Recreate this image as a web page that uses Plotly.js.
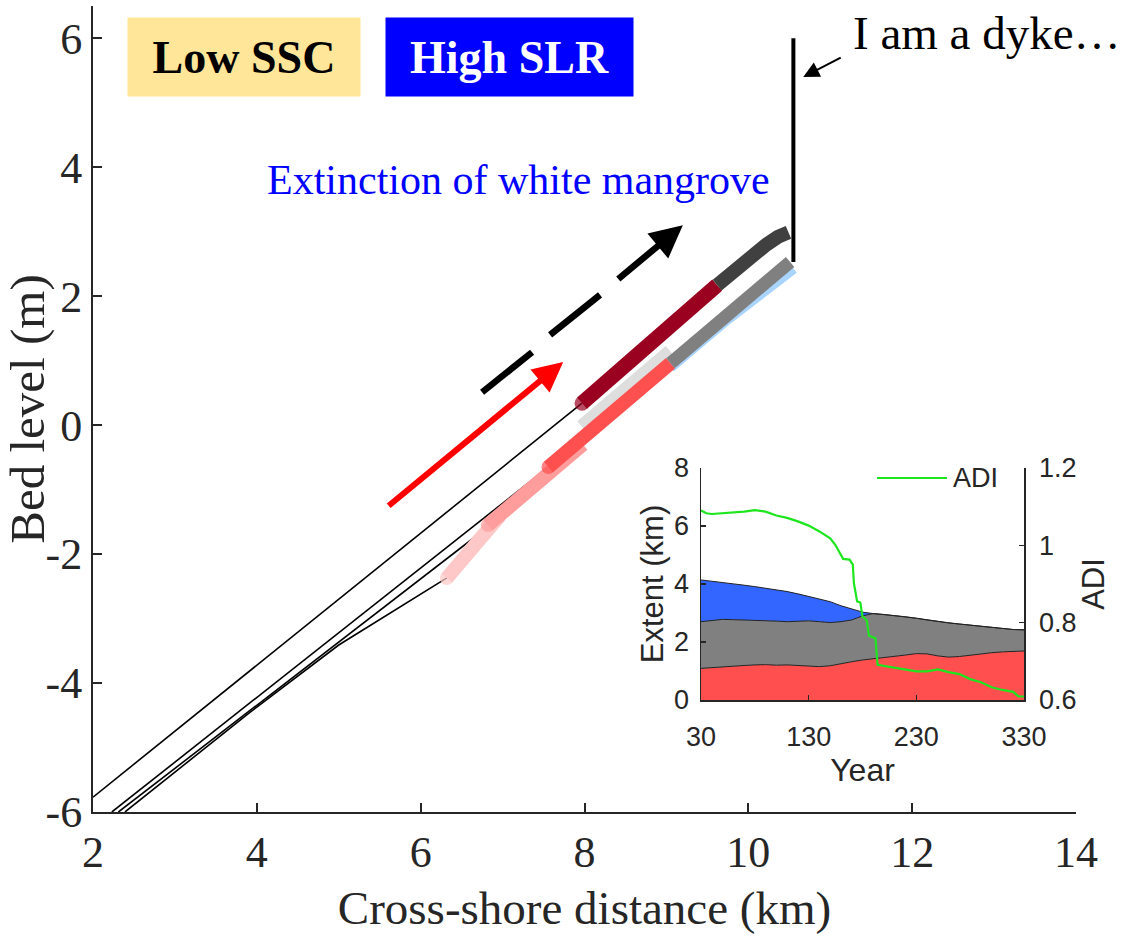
<!DOCTYPE html>
<html>
<head>
<meta charset="utf-8">
<script src="https://cdn.plot.ly/plotly-3.0.1.min.js"></script>
<style>html,body{margin:0;padding:0;background:#fff;}#chart{width:1130px;height:937px;}</style>
</head>
<body>
<div id="chart"></div>
<script>
// ---------- Main profile data (cross-shore distance km, bed level m) ----------
const profileA_x = [2.0, 7.97];
const profileA_y = [-5.77, 0.34];
const profileB_x = [2.23, 7.56];
const profileB_y = [-6.0, -0.65];
const profileC_x = [2.31, 6.82];
const profileC_y = [-6.0, -1.58];
const profileD_x = [2.39, 3.9, 5.0, 6.32];
const profileD_y = [-6.0, -4.47, -3.41, -2.37];

const lightPink_x = [6.32, 6.97];
const lightPink_y = [-2.37, -1.40];
const pink_x = [6.82, 7.98];
const pink_y = [-1.55, -0.30];
const lightGray_x = [7.97, 9.05];
const lightGray_y = [-0.03, 1.14];
const lightBlue_x = [9.05, 9.70, 10.55];
const lightBlue_y = [0.90, 1.60, 2.43];
const red_x = [7.56, 9.05];
const red_y = [-0.65, 0.96];
const gray_x = [9.05, 9.70, 10.51];
const gray_y = [0.96, 1.68, 2.53];
const darkRed_x = [7.97, 9.62];
const darkRed_y = [0.34, 2.17];
const darkGray_x = [9.62, 9.85, 10.05, 10.22, 10.36, 10.49];
const darkGray_y = [2.17, 2.43, 2.64, 2.80, 2.92, 2.99];
const dyke_x = [10.55, 10.55];
const dyke_y = [2.53, 6.0];

const mainXTicks = [2, 4, 6, 8, 10, 12, 14];
const mainYTicks = [-6, -4, -2, 0, 2, 4, 6];
const mainYTickText = ['-6', '-4', '-2', '0', '2', '4', '6'];

// ---------- Inset data ----------
const years = [30,40,50,60,70,80,90,100,110,120,130,140,150,160,170,180,190,200,210,220,230,240,250,260,270,280,290,300,310,320,330];
const redTop = [1.09,1.12,1.15,1.17,1.19,1.21,1.22,1.20,1.21,1.19,1.17,1.15,1.18,1.26,1.32,1.38,1.42,1.45,1.50,1.55,1.60,1.59,1.52,1.48,1.50,1.55,1.58,1.63,1.66,1.68,1.69];
const grayTop = [2.70,2.74,2.78,2.77,2.76,2.76,2.74,2.72,2.70,2.72,2.73,2.70,2.67,2.70,2.76,2.90,2.98,2.95,2.91,2.87,2.82,2.76,2.70,2.66,2.62,2.58,2.53,2.49,2.45,2.43,2.42];
const totalTop = [4.14,4.10,4.05,4.00,3.96,3.91,3.86,3.80,3.74,3.66,3.57,3.48,3.39,3.25,3.14,3.03,2.98,2.95,2.91,2.87,2.82,2.76,2.70,2.66,2.62,2.58,2.53,2.49,2.45,2.43,2.42];

const adiYears = [30,35,40,50,60,70,80,85,90,100,110,120,130,140,145,150,155,158,162,168,171,172,175,178,180,182,184,186,190,192,194,200,210,220,230,240,250,260,270,280,290,300,310,320,325,330];
const adiVals = [1.090,1.083,1.081,1.083,1.085,1.087,1.091,1.089,1.087,1.077,1.071,1.062,1.051,1.036,1.027,1.018,1.000,0.985,0.965,0.963,0.950,0.902,0.855,0.852,0.815,0.812,0.805,0.766,0.762,0.760,0.691,0.688,0.684,0.679,0.674,0.674,0.679,0.672,0.667,0.654,0.646,0.633,0.626,0.621,0.609,0.609];

const insetXTicks = [30, 130, 230, 330];
const insetYTicks = [0, 2, 4, 6, 8];
const adiTicks = [0.6, 0.8, 1.0, 1.2];
const adiTickText = ['0.6', '0.8', '1', '1.2'];

// ---------- Traces ----------
function thin(x, y) {
  return {x: x, y: y, xaxis: 'x', yaxis: 'y', mode: 'lines', line: {color: '#000', width: 1.6}, hoverinfo: 'skip'};
}
function thick(x, y, color, w, capStart) {
  return {x: x, y: y, xaxis: 'x', yaxis: 'y', mode: capStart ? 'lines+markers' : 'lines',
    line: {color: color, width: w},
    marker: {color: color, size: capStart ? x.map((v, i) => i === 0 ? w : 0) : 0, line: {width: 0}},
    hoverinfo: 'skip'};
}

const data = [
  thin(profileA_x, profileA_y),
  thin(profileB_x, profileB_y),
  thin(profileC_x, profileC_y),
  thin(profileD_x, profileD_y),
  thick(lightBlue_x, lightBlue_y, '#a8d4ff', 11, false),
  thick(lightGray_x, lightGray_y, '#dedede', 15, false),
  thick(lightPink_x, lightPink_y, '#ffc8c8', 14, true),
  thick(pink_x, pink_y, '#ff9c9c', 14, true),
  thick(red_x, red_y, '#ff5050', 14, true),
  thick(gray_x, gray_y, '#808080', 13, false),
  thick(darkRed_x, darkRed_y, '#9a0020', 15, true),
  thick(darkGray_x, darkGray_y, '#404040', 14, false),
  {x: dyke_x, y: dyke_y, xaxis: 'x', yaxis: 'y', mode: 'lines', line: {color: '#000', width: 4}, hoverinfo: 'skip'},
  // inset
  {x: years, y: redTop, xaxis: 'x2', yaxis: 'y2', mode: 'lines', fill: 'tozeroy', fillcolor: '#ff4f4f', line: {color: '#222', width: 1}, hoverinfo: 'skip'},
  {x: years, y: grayTop, xaxis: 'x2', yaxis: 'y2', mode: 'lines', fill: 'tonexty', fillcolor: '#808080', line: {color: '#222', width: 1}, hoverinfo: 'skip'},
  {x: years, y: totalTop, xaxis: 'x2', yaxis: 'y2', mode: 'lines', fill: 'tonexty', fillcolor: '#3366ff', line: {color: '#222', width: 1}, hoverinfo: 'skip'},
  {x: adiYears, y: adiVals, xaxis: 'x2', yaxis: 'y3', mode: 'lines', name: 'ADI', line: {color: '#1ee61e', width: 2.2, shape: 'linear'}, hoverinfo: 'skip'}
];

// paper helpers (pixel -> paper), main plot area: x 93..1076, y 6..812
const L = 93, R = 1076, T = 6, B = 812;
const px = v => (v - L) / (R - L);
const py = v => (B - v) / (B - T);

const axisCommon = {
  showgrid: false, zeroline: false, showline: true, linecolor: '#262626', linewidth: 2,
  ticks: 'inside', tickcolor: '#262626', tickwidth: 2, ticklen: 9
};

const layout = {
  width: 1130, height: 937,
  margin: {l: L, r: 1130 - R, t: T, b: 937 - B, pad: 0},
  paper_bgcolor: '#fff', plot_bgcolor: 'rgba(0,0,0,0)',
  showlegend: false,
  font: {family: 'Liberation Serif', color: '#262626'},
  xaxis: Object.assign({}, axisCommon, {
    domain: [0, 1], anchor: 'y', range: [2, 14], tickvals: mainXTicks,
    tickfont: {family: 'Liberation Serif', size: 44, color: '#262626'},
    title: {text: 'Cross-shore distance (km)', font: {family: 'Liberation Serif', size: 47, color: '#262626'}, standoff: 15}
  }),
  yaxis: Object.assign({}, axisCommon, {
    domain: [0, 1], anchor: 'x', range: [-6, 6.5], tickvals: mainYTicks, ticktext: mainYTickText,
    tickfont: {family: 'Liberation Serif', size: 44, color: '#262626'},
    title: {text: 'Bed level (m)', font: {family: 'Liberation Serif', size: 49, color: '#262626'}, standoff: 2}
  }),
  xaxis2: Object.assign({}, axisCommon, {
    domain: [px(701), px(1024)], anchor: 'y2', range: [30, 330], tickvals: insetXTicks,
    linewidth: 1.5, tickwidth: 1.5, ticklen: 5, ticklabelstandoff: 12,
    tickfont: {family: 'Liberation Sans', size: 27, color: '#262626'},
    title: {text: 'Year', font: {family: 'Liberation Sans', size: 32, color: '#262626'}, standoff: 2}
  }),
  yaxis2: Object.assign({}, axisCommon, {
    domain: [py(700), py(468)], anchor: 'x2', range: [0, 8], tickvals: insetYTicks,
    linewidth: 1.5, tickwidth: 1.5, ticklen: 5, ticklabelstandoff: 5,
    tickfont: {family: 'Liberation Sans', size: 27, color: '#262626'},
    title: {text: 'Extent (km)', font: {family: 'Liberation Sans', size: 31, color: '#262626'}, standoff: 1}
  }),
  yaxis3: Object.assign({}, axisCommon, {
    overlaying: 'y2', side: 'right', anchor: 'x2', range: [0.6, 1.2], tickvals: adiTicks, ticktext: adiTickText,
    linewidth: 1.5, tickwidth: 1.5, ticklen: 5, ticklabelstandoff: 8,
    tickfont: {family: 'Liberation Sans', size: 27, color: '#262626'},
    title: {text: 'ADI', font: {family: 'Liberation Sans', size: 31, color: '#262626'}, standoff: 4}
  }),
  shapes: [
    // dashed black arrow body (two dashes; third dash is the annotation arrow)
    {type: 'line', xref: 'x', yref: 'y', x0: 6.75, y0: 0.51, x1: 7.36, y1: 1.13, line: {color: '#000', width: 6.5}},
    {type: 'line', xref: 'x', yref: 'y', x0: 7.58, y0: 1.40, x1: 8.19, y1: 2.02, line: {color: '#000', width: 6.5}},
    // inset legend line
    {type: 'line', xref: 'paper', yref: 'paper', x0: px(877), y0: py(478), x1: px(947), y1: py(478), line: {color: '#1ee61e', width: 2.2}}
  ],
  annotations: [
    {xref: 'paper', yref: 'paper', x: px(244), y: py(57), text: '<b>Low SSC</b>', showarrow: false,
      font: {family: 'Liberation Serif', size: 46, color: '#000'}, bgcolor: '#ffe699', width: 232, height: 78, borderpad: 0,
      xanchor: 'center', yanchor: 'middle'},
    {xref: 'paper', yref: 'paper', x: px(509.5), y: py(57), text: '<b>High SLR</b>', showarrow: false,
      font: {family: 'Liberation Serif', size: 46, color: '#fff'}, bgcolor: '#0000ff', width: 247, height: 78, borderpad: 0,
      xanchor: 'center', yanchor: 'middle'},
    {xref: 'paper', yref: 'paper', x: px(518), y: py(180), text: 'Extinction of white mangrove', showarrow: false,
      font: {family: 'Liberation Serif', size: 42, color: '#0000ff'}, xanchor: 'center', yanchor: 'middle'},
    {xref: 'paper', yref: 'paper', x: px(851), y: py(33), text: 'I am a dyke…', showarrow: false,
      font: {family: 'Liberation Serif', size: 47, color: '#000'}, xanchor: 'left', yanchor: 'middle'},
    // dyke pointer arrow
    {xref: 'x', yref: 'y', x: 10.67, y: 5.40, ax: 39, ay: -20, text: '', showarrow: true,
      arrowcolor: '#000', arrowwidth: 2, arrowhead: 2, arrowsize: 1.6, standoff: 0},
    // red arrow
    {xref: 'x', yref: 'y', x: 7.74, y: 0.98, ax: -176, ay: 145, text: '', showarrow: true,
      arrowcolor: '#ff0000', arrowwidth: 6, arrowhead: 2, arrowsize: 1, standoff: 0},
    // black dashed arrow head segment
    {xref: 'x', yref: 'y', x: 9.20, y: 3.10, ax: -66, ay: 55, text: '', showarrow: true,
      arrowcolor: '#000', arrowwidth: 6.5, arrowhead: 2, arrowsize: 1, standoff: 0},
    // inset legend label
    {xref: 'paper', yref: 'paper', x: px(951), y: py(478), text: 'ADI', showarrow: false,
      font: {family: 'Liberation Sans', size: 27, color: '#262626'}, xanchor: 'left', yanchor: 'middle'}
  ]
};

Plotly.newPlot('chart', data, layout, {displayModeBar: false, staticPlot: true});
</script>
</body>
</html>
